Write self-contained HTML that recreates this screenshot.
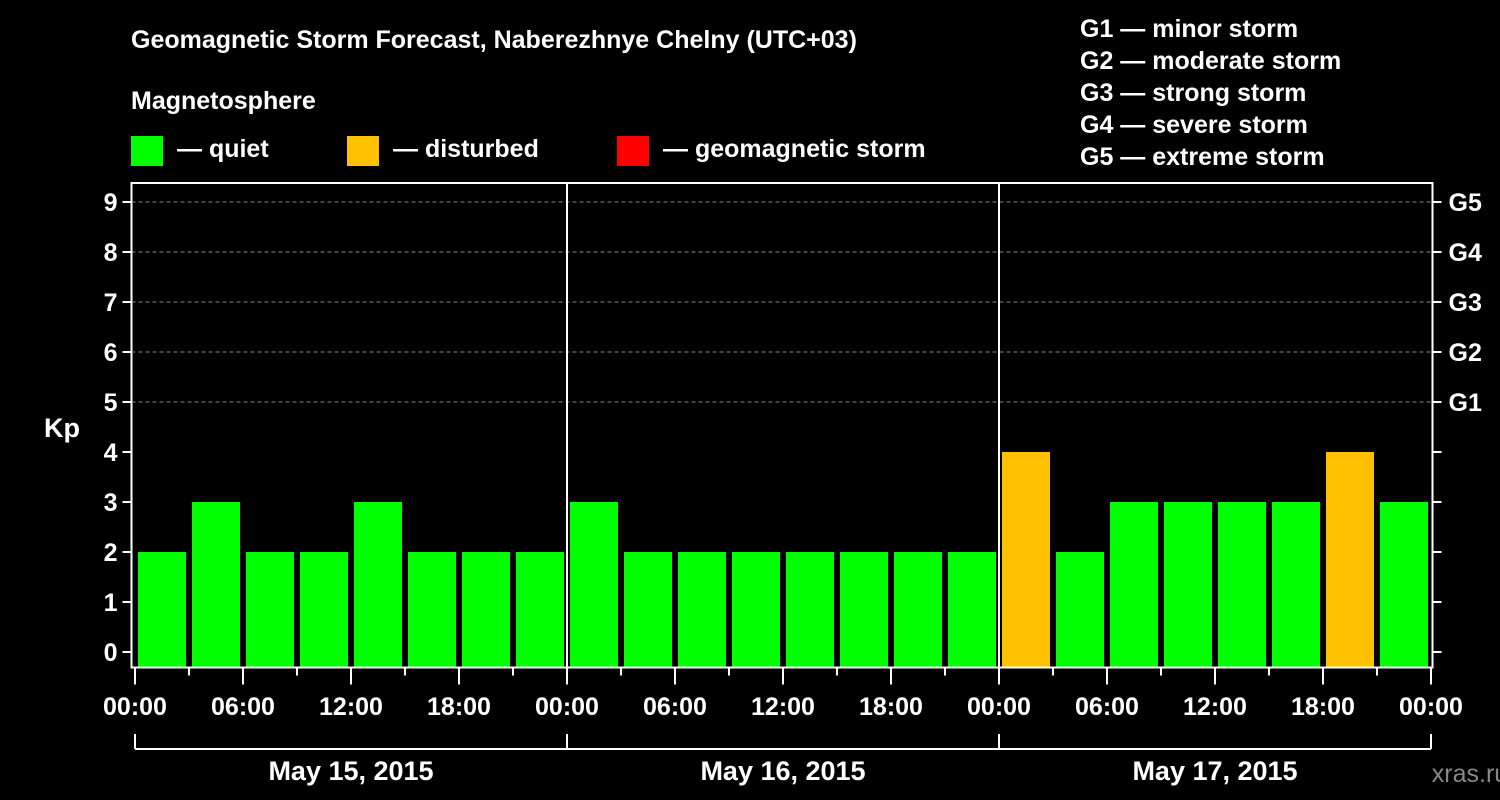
<!DOCTYPE html>
<html><head><meta charset="utf-8"><style>
html,body{margin:0;padding:0;background:#000;}
svg{display:block;font-family:"Liberation Sans",sans-serif;font-weight:bold;}
</style></head><body>
<svg id="chart" width="1500" height="800">
<rect width="1500" height="800" fill="#000"/>
<text x="131" y="48" fill="#fff" font-size="25">Geomagnetic Storm Forecast, Naberezhnye Chelny (UTC+03)</text>
<text x="131" y="109" fill="#fff" font-size="25">Magnetosphere</text>
<g><rect x="131" y="136" width="32" height="30" fill="#00ff00"/><text x="177" y="157" fill="#fff" font-size="25">— quiet</text></g>
<g><rect x="347" y="136" width="32" height="30" fill="#ffc000"/><text x="393" y="157" fill="#fff" font-size="25">— disturbed</text></g>
<g><rect x="617" y="136" width="32" height="30" fill="#ff0000"/><text x="663" y="157" fill="#fff" font-size="25">— geomagnetic storm</text></g>
<g fill="#fff" font-size="25">
<text x="1080" y="37">G1 — minor storm</text>
<text x="1080" y="69">G2 — moderate storm</text>
<text x="1080" y="101">G3 — strong storm</text>
<text x="1080" y="133">G4 — severe storm</text>
<text x="1080" y="165">G5 — extreme storm</text>
</g>
<text x="62" y="437" fill="#fff" font-size="27" text-anchor="middle">Kp</text>
<text x="1470" y="782" fill="#888" font-size="25" text-anchor="middle" font-weight="normal">xras.ru</text>
<g id="grid"></g><g id="bars"></g><g id="axes"></g>
</svg>
<script>
const kpValues=[2,3,2,2,3,2,2,2, 3,2,2,2,2,2,2,2, 4,2,3,3,3,3,4,3];
const dayLabels=["May 15, 2015","May 16, 2015","May 17, 2015"];
const hourLabels=["00:00","06:00","12:00","18:00"];
const gLabels=["G1","G2","G3","G4","G5"];
const yTicks=[0,1,2,3,4,5,6,7,8,9];
const NS="http://www.w3.org/2000/svg";
const X0=135,HOUR=18,L=131.5,R=1432.5,T=183,B=667.5;
const xh=h=>X0+HOUR*h;
const yv=v=>652-50*v;
function mk(tag,attrs,parent,txt){const e=document.createElementNS(NS,tag);for(const k in attrs)e.setAttribute(k,attrs[k]);if(txt!==undefined)e.textContent=txt;parent.appendChild(e);return e;}
const grid=document.getElementById('grid'),bars=document.getElementById('bars'),axes=document.getElementById('axes');
yTicks.forEach(v=>{
 if(v>=5){const g=mk('line',{x1:L,x2:R,y1:yv(v),y2:yv(v),stroke:'#888','stroke-width':1,'stroke-dasharray':'4,3'},grid);
 
 }
 mk('line',{x1:L-9,x2:L,y1:yv(v),y2:yv(v),stroke:'#fff','stroke-width':2},axes);
 mk('line',{x1:R,x2:R+9,y1:yv(v),y2:yv(v),stroke:'#fff','stroke-width':2},axes);
 const t=mk('text',{x:L-14,y:yv(v)+9,fill:'#fff','font-size':25,'text-anchor':'end'},axes,String(v));
 
 
});
gLabels.forEach((g,i)=>{
 const t=mk('text',{x:R+16,y:yv(5+i)+9,fill:'#fff','font-size':25},axes,g);
 
 
});
kpValues.forEach((v,i)=>{
 const col=v>=5?'#ff0000':(v>=4?'#ffc000':'#00ff00');
 const top=yv(v);
 const b=mk('rect',{x:xh(i*3)+3,y:top,width:48,height:B-top,fill:col},bars);
 
 
});
mk('rect',{x:L,y:T,width:R-L,height:B-T,fill:'none',stroke:'#fff','stroke-width':2},axes);
for(let d=1;d<3;d++)mk('line',{x1:xh(24*d),x2:xh(24*d),y1:T,y2:B,stroke:'#fff','stroke-width':2},axes);
for(let h=0;h<=72;h+=3){
 const major=h%6===0;
 mk('line',{x1:xh(h),x2:xh(h),y1:B,y2:B+(major?17:8),stroke:'#fff','stroke-width':2},axes);
 if(major){const t=mk('text',{x:xh(h),y:715,fill:'#fff','font-size':25,'text-anchor':'middle'},axes,hourLabels[(h/6)%4]);
 
 }
}
mk('line',{x1:xh(0),x2:xh(72),y1:749,y2:749,stroke:'#fff','stroke-width':2},axes);
for(let d=0;d<=3;d++)mk('line',{x1:xh(24*d),x2:xh(24*d),y1:734,y2:749,stroke:'#fff','stroke-width':2},axes);
dayLabels.forEach((s,d)=>{
 const t=mk('text',{x:xh(24*d+12),y:780,fill:'#fff','font-size':27,'text-anchor':'middle'},axes,s);
 
 
});
</script>
</body></html>
